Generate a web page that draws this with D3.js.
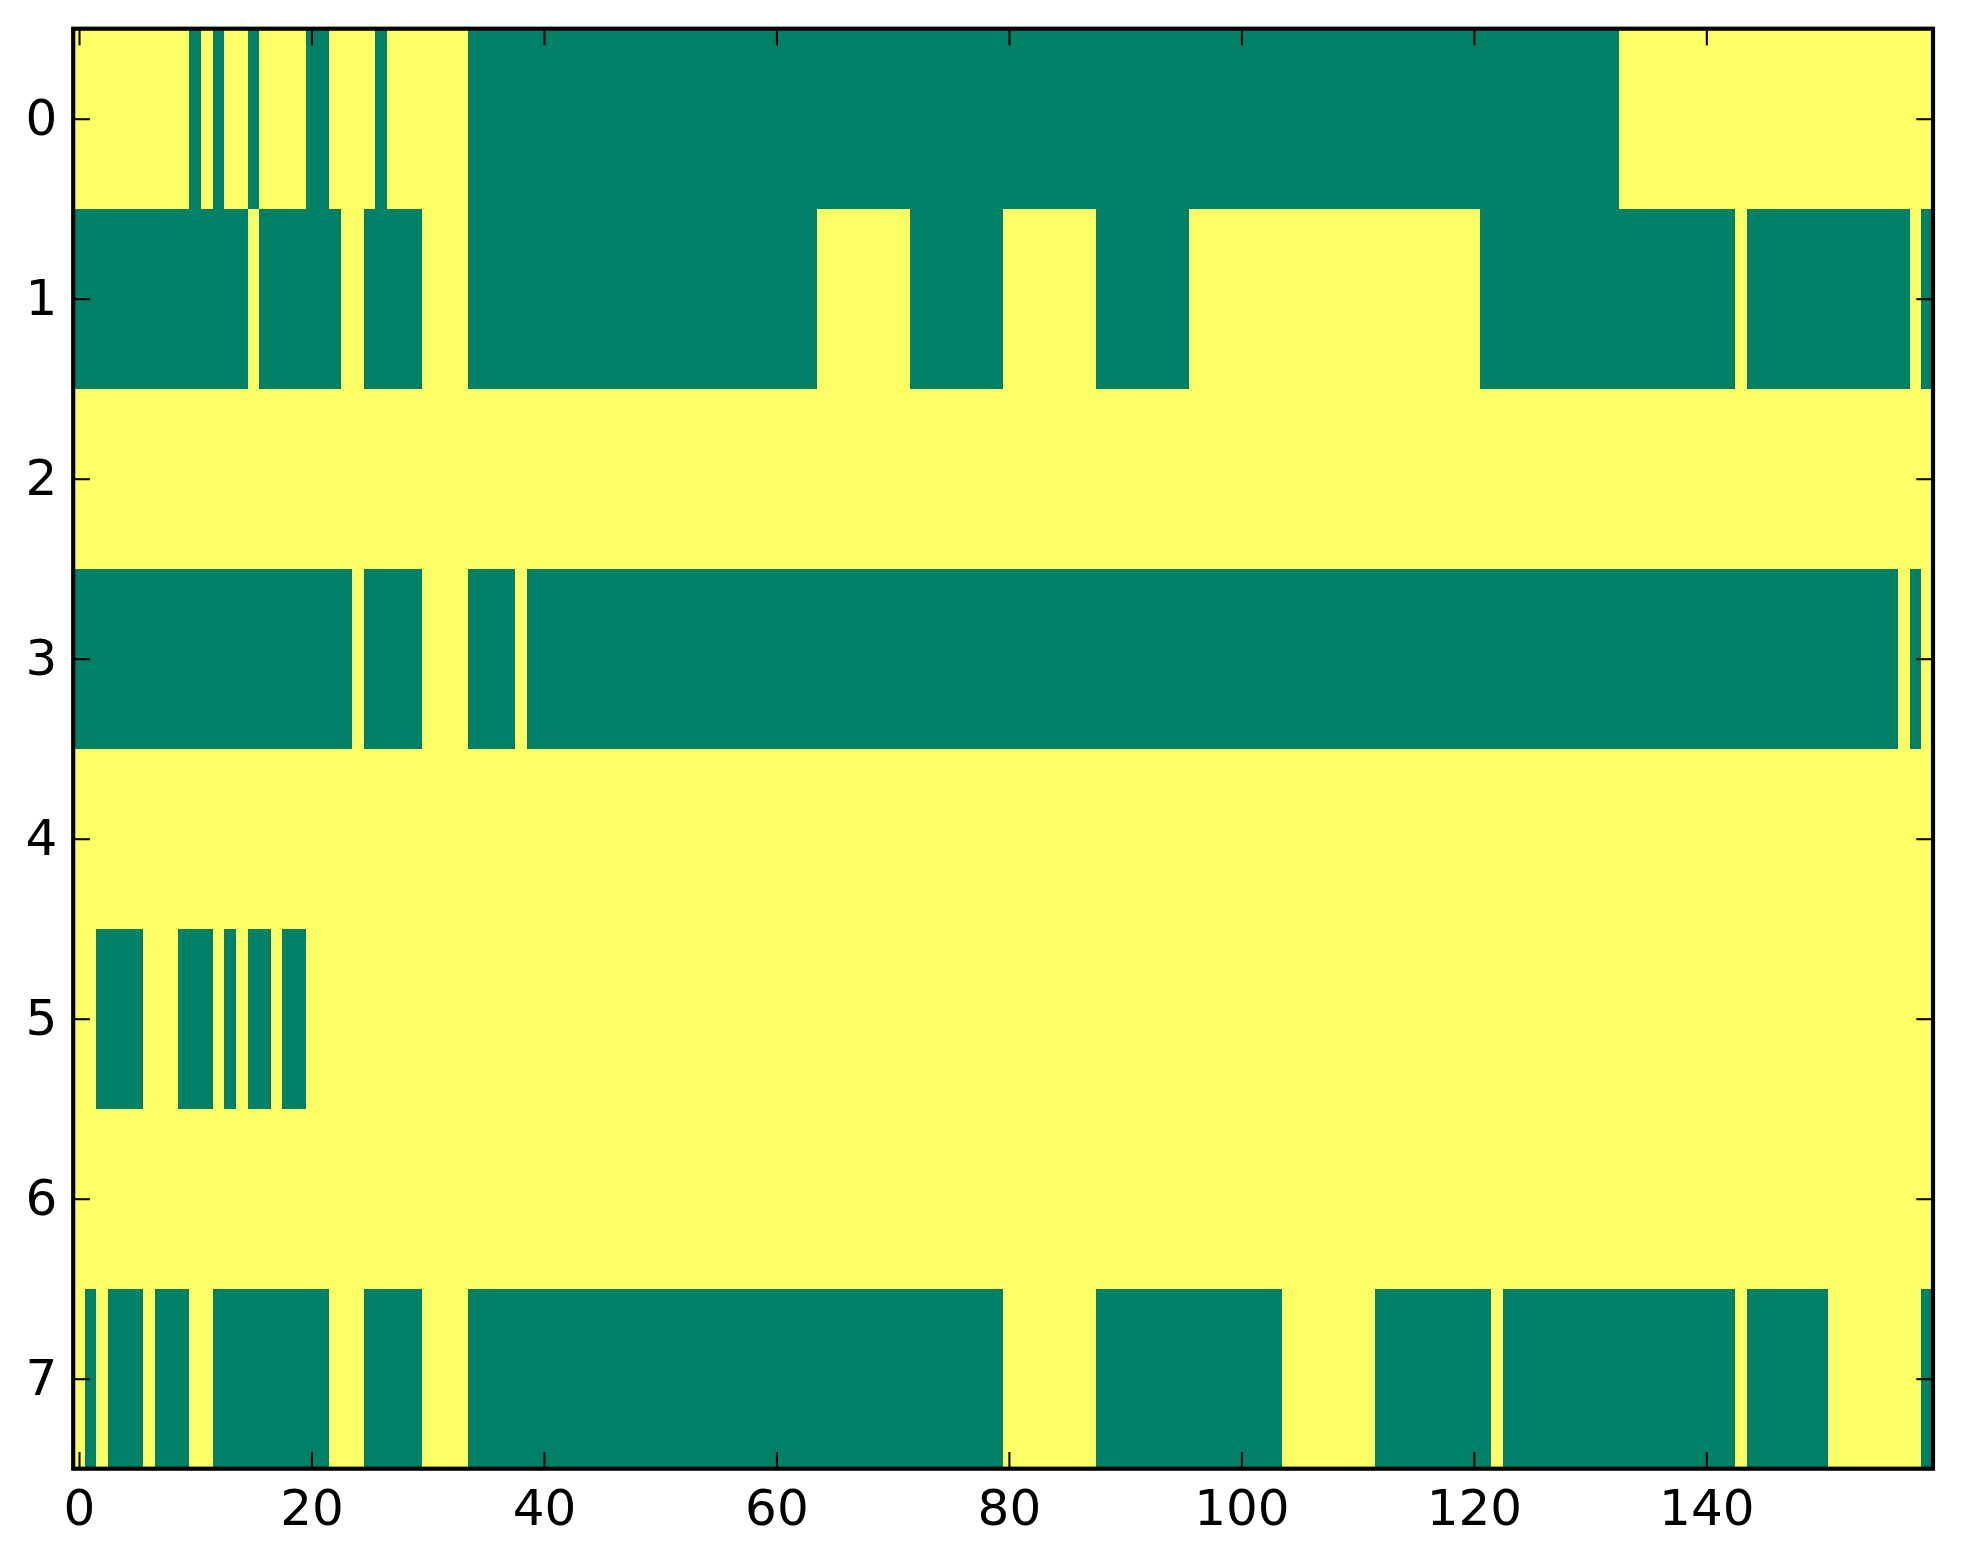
<!DOCTYPE html>
<html lang="en">
<head>
  <meta charset="UTF-8">
  <title>Binary grid</title>
  <script src="https://d3js.org/d3.v7.min.js"></script>
  <style>
    body, html {
      margin: 0;
      padding: 0;
      background: #fff;
    }
    svg { display: block; }
    .tick text {
      font-family: "DejaVu Sans", sans-serif;
      font-size: 50px;
      fill: #000;
    }
    .tick line { stroke: #000; stroke-width: 2.08px; }
  </style>
</head>
<body>
  <svg id="chart" width="1963" height="1564"></svg>

  <script>
    // 8 rows x 160 columns; runs of green cells (value 0), inclusive column ranges
    const nCols = 160;
    const rowLabels = [0, 1, 2, 3, 4, 5, 6, 7];
    const xTicks = [0, 20, 40, 60, 80, 100, 120, 140];

    const row0 = [[10, 10], [12, 12], [15, 15], [20, 21], [26, 26], [34, 132]];
    const row1 = [[0, 14], [16, 22], [25, 29], [34, 63], [72, 79], [88, 95], [121, 142], [144, 157], [159, 159]];
    const row2 = [];
    const row3 = [[0, 23], [25, 29], [34, 37], [39, 156], [158, 158]];
    const row4 = [];
    const row5 = [[2, 5], [9, 11], [13, 13], [15, 16], [18, 19]];
    const row6 = [];
    const row7 = [[1, 1], [3, 5], [7, 9], [12, 21], [25, 29], [34, 79], [88, 103], [112, 121], [123, 142], [144, 150], [159, 159]];

    const rows = [row0, row1, row2, row3, row4, row5, row6, row7];

    // expand runs into cells: 0 = green, 1 = yellow
    const cells = [];
    rows.forEach((runs, r) => {
      for (let c = 0; c < nCols; c++) {
        const green = runs.some(([a, b]) => c >= a && c <= b);
        cells.push({ row: r, col: c, value: green ? 0 : 1 });
      }
    });

    const plotLeft = 73.2, plotRight = 1933, plotTop = 28.7, plotBottom = 1468.7;
    const tickLen = 16.7;

    const svg = d3.select("#chart");

    const x = d3.scaleLinear().domain([-0.5, nCols - 0.5]).range([plotLeft, plotRight]);
    const y = d3.scaleLinear().domain([-0.5, rowLabels.length - 0.5]).range([plotTop, plotBottom]);
    const color = d3.scaleLinear().domain([0, 1]).range(["#008066", "#ffff66"]);

    svg.append("g")
      .attr("shape-rendering", "crispEdges")
      .selectAll("rect")
      .data(cells)
      .enter().append("rect")
      .attr("x", d => x(d.col - 0.5))
      .attr("y", d => y(d.row - 0.5))
      .attr("width", d => x(d.col + 0.5) - x(d.col - 0.5))
      .attr("height", d => y(d.row + 0.5) - y(d.row - 0.5))
      .attr("fill", d => color(d.value));

    const xAxis = svg.append("g")
      .attr("transform", `translate(0,${plotBottom})`)
      .call(d3.axisBottom(x).tickValues(xTicks).tickSizeInner(-tickLen).tickSizeOuter(0).tickPadding(20.5));

    const xAxisTop = svg.append("g")
      .attr("transform", `translate(0,${plotTop})`)
      .call(d3.axisTop(x).tickValues(xTicks).tickSizeInner(-tickLen).tickSizeOuter(0).tickFormat(""));

    const yAxis = svg.append("g")
      .attr("transform", `translate(${plotLeft},0)`)
      .call(d3.axisLeft(y).tickValues(rowLabels).tickSizeInner(-tickLen).tickSizeOuter(0).tickPadding(16));

    const yAxisRight = svg.append("g")
      .attr("transform", `translate(${plotRight},0)`)
      .call(d3.axisRight(y).tickValues(rowLabels).tickSizeInner(-tickLen).tickSizeOuter(0).tickFormat(""));

    [xAxis, xAxisTop, yAxis, yAxisRight].forEach(g => {
      g.select(".domain").remove();
      g.attr("font-size", null).attr("font-family", null);
    });

    // spines
    svg.append("rect")
      .attr("x", plotLeft)
      .attr("y", plotTop)
      .attr("width", plotRight - plotLeft)
      .attr("height", plotBottom - plotTop)
      .attr("fill", "none")
      .attr("stroke", "#000")
      .attr("stroke-width", 4.17);
  </script>
</body>
</html>
